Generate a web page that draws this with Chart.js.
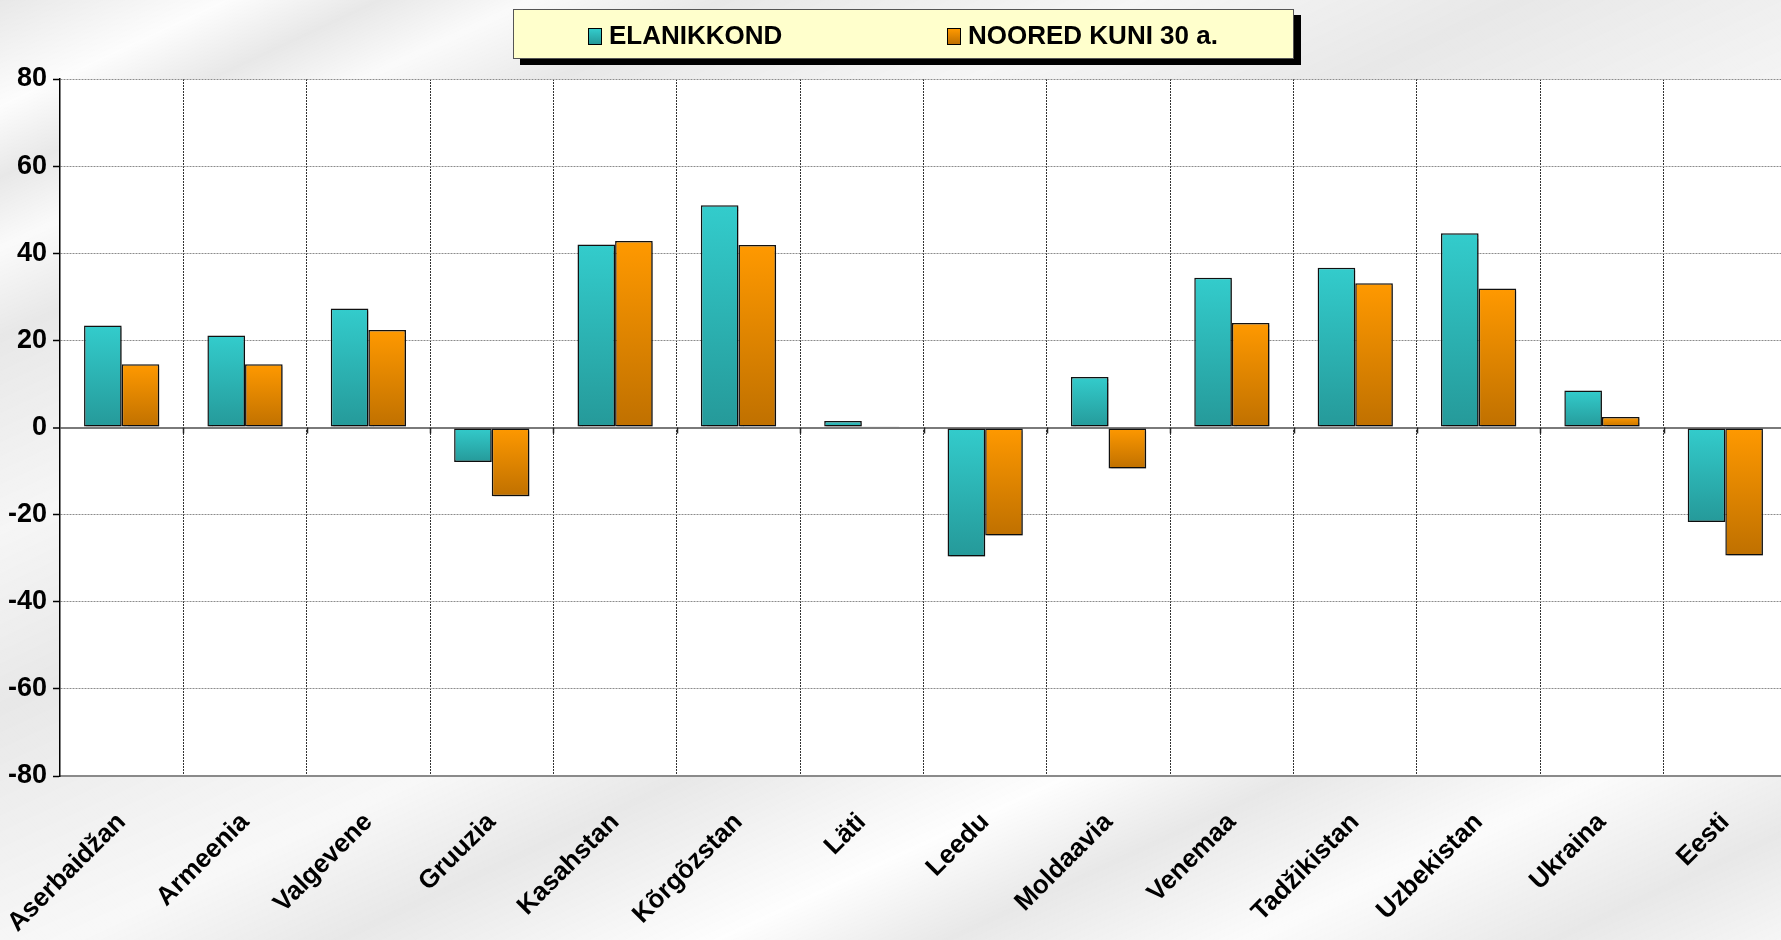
<!DOCTYPE html>
<html>
<head>
<meta charset="utf-8">
<title>Rahvastiku muutus</title>
<script src="https://cdn.jsdelivr.net/npm/chart.js@4.4.0/dist/chart.umd.min.js"></script>
<style>
  html, body { margin: 0; padding: 0; width: 1781px; height: 940px; overflow: hidden; }
  body {
    font-family: "Liberation Sans", Arial, sans-serif;
    background-color: #e8e8e8;
    background-image:
      linear-gradient(155deg, rgba(255,255,255,0) 0%, rgba(255,255,255,0.9) 6%, rgba(255,255,255,0) 10%,
        rgba(255,255,255,0.8) 14%, rgba(255,255,255,0) 19%, rgba(255,255,255,0.6) 30%, rgba(255,255,255,0) 40%,
        rgba(255,255,255,0.7) 55%, rgba(255,255,255,0) 62%, rgba(255,255,255,0.95) 72%, rgba(255,255,255,0) 78%,
        rgba(255,255,255,0.85) 86%, rgba(255,255,255,0) 94%, rgba(255,255,255,0.6) 100%);
  }
  #wrap { position: absolute; left: 0; top: 0; width: 1788px; height: 940px; }
  #legend {
    position: absolute; left: 513px; top: 9px; width: 779px; height: 48px;
    background: #ffffcc; border: 1px solid #555; box-shadow: 7px 6px 0 #000;
  }
  #legend .item {
    position: absolute; top: 10px; font-weight: bold; font-size: 26px; line-height: 30px;
    color: #000; white-space: nowrap;
  }
  #legend .box {
    display: inline-block; width: 12px; height: 15px; border: 1px solid #000;
    margin-right: 7px; vertical-align: -1px;
  }
</style>
</head>
<body>
<div id="wrap">
  <canvas id="chart" width="1788" height="940"></canvas>
  <div id="legend"></div>
</div>
<script>
var countries = ["Aserbaidžan", "Armeenia", "Valgevene", "Gruuzia", "Kasahstan", "Kõrgõzstan", "Läti",
  "Leedu", "Moldaavia", "Venemaa", "Tadžikistan", "Uzbekistan", "Ukraina", "Eesti"];
var elanikkond = [23.4, 21.1, 27.3, -7.9, 42.0, 51.0, 1.5, -29.6, 11.6, 34.4, 36.7, 44.6, 8.5, -21.7];
var noored = [14.5, 14.5, 22.4, -15.8, 42.8, 41.9, 0.3, -24.8, -9.4, 24.0, 33.1, 31.9, 2.4, -29.4];
var yTicks = [-80, -60, -40, -20, 0, 20, 40, 60, 80];

var seriesNames = ["ELANIKKOND", "NOORED KUNI 30 a."];
var tealTop = "#33cccc", tealBottom = "#259999";
var orangeTop = "#ff9900", orangeBottom = "#bf7000";

// vertical gradient from the bar's top edge to its bottom edge
function barFill(top, bottom) {
  return function (c) {
    var chart = c.chart;
    var ys = chart.scales && chart.scales.y;
    if (c.type !== "data" || !chart.chartArea || !ys) return top;
    var p0 = ys.getPixelForValue(0), p1 = ys.getPixelForValue(c.raw);
    var g = chart.ctx.createLinearGradient(0, Math.min(p0, p1), 0, Math.max(p0, p1) + 0.5);
    g.addColorStop(0, top);
    g.addColorStop(1, bottom);
    return g;
  };
}

var plotDecor = {
  id: "plotDecor",
  beforeDraw: function (chart) {
    var a = chart.chartArea, ctx = chart.ctx;
    ctx.save();
    ctx.fillStyle = "#ffffff";
    ctx.fillRect(a.left, a.top, a.right - a.left, a.bottom - a.top);
    ctx.restore();
  },
  beforeDatasetsDraw: function (chart) {
    var ctx = chart.ctx;
    ctx.save();
    ctx.shadowColor = "rgba(0,0,0,0.28)";
    ctx.shadowOffsetX = 2;
    ctx.shadowOffsetY = 2;
    ctx.shadowBlur = 1;
  },
  afterDatasetsDraw: function (chart) {
    chart.ctx.restore();
  },
  afterDraw: function (chart) {
    // short marks under the zero line at category borders
    var ctx = chart.ctx, xs = chart.scales.x, y0 = chart.scales.y.getPixelForValue(0);
    ctx.save();
    ctx.strokeStyle = "#222";
    ctx.lineWidth = 1.5;
    for (var i = 1; i < countries.length; i++) {
      var x = Math.round((xs.getPixelForTick(i - 1) + xs.getPixelForTick(i)) / 2) + 0.5;
      ctx.beginPath();
      ctx.moveTo(x, y0);
      ctx.lineTo(x, y0 + 6);
      ctx.stroke();
    }
    ctx.restore();
  }
};

var chart = new Chart(document.getElementById("chart"), {
  type: "bar",
  data: {
    labels: countries,
    datasets: [
      {
        label: seriesNames[0],
        data: elanikkond,
        backgroundColor: barFill(tealTop, tealBottom),
        borderColor: "#111",
        borderWidth: 1.5,
        borderSkipped: false
      },
      {
        label: seriesNames[1],
        data: noored,
        backgroundColor: barFill(orangeTop, orangeBottom),
        borderColor: "#111",
        borderWidth: 1.5,
        borderSkipped: false
      }
    ]
  },
  options: {
    responsive: false,
    animation: false,
    events: [],
    layout: { padding: { top: 79, right: 1, left: 0, bottom: 0 } },
    datasets: { bar: { categoryPercentage: 0.61, barPercentage: 1.0 } },
    plugins: { legend: { display: false }, tooltip: { enabled: false } },
    scales: {
      x: {
        grid: { offset: true, color: "#333", lineWidth: 1, drawTicks: false },
        border: { display: true, color: "#8a8a8a", width: 2, dash: [2, 1] },
        ticks: {
          autoSkip: false, minRotation: 45, maxRotation: 45, padding: 31,
          color: "#000", font: { family: "Liberation Sans", size: 26, weight: "bold" }
        },
        afterFit: function (s) { s.height = 164; s.paddingLeft = 0; s.paddingRight = 0; }
      },
      y: {
        min: -80, max: 80,
        afterBuildTicks: function (s) { s.ticks = yTicks.map(function (v) { return { value: v }; }); },
        grid: {
          color: function (c) { return c.tick && c.tick.value === 0 ? "#7a7a7a" : "#8c8c8c"; },
          lineWidth: function (c) { return c.tick && c.tick.value === 0 ? 2 : 1; },
          tickLength: 7, tickColor: "#000", tickWidth: 1.5
        },
        border: {
          display: true, color: "#000", width: 1.5,
          dash: function (c) { return c.tick && c.tick.value === 0 ? [] : [2, 1]; }
        },
        ticks: {
          padding: 6, color: "#000",
          font: { family: "Liberation Sans", size: 27, weight: "bold" }
        },
        afterFit: function (s) { s.width = 60; }
      }
    }
  },
  plugins: [plotDecor]
});

// legend box built from the datasets
var legend = document.getElementById("legend");
var itemLeft = [74, 433];
chart.data.datasets.forEach(function (ds, i) {
  var item = document.createElement("div");
  item.className = "item";
  item.style.left = itemLeft[i] + "px";
  var box = document.createElement("span");
  box.className = "box";
  box.style.background = "linear-gradient(" + (i === 0 ? tealTop + "," + tealBottom : orangeTop + "," + orangeBottom) + ")";
  item.appendChild(box);
  item.appendChild(document.createTextNode(ds.label));
  legend.appendChild(item);
});
</script>
</body>
</html>
